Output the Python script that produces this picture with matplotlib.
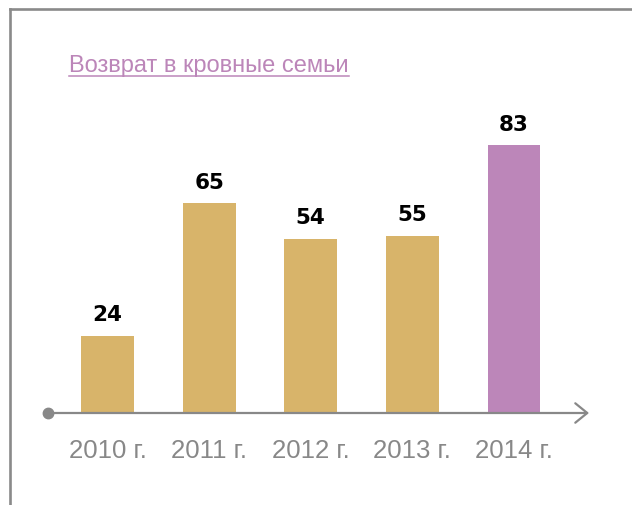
import matplotlib.pyplot as plt
from matplotlib.lines import Line2D

# data
years = ['2010 г.', '2011 г.', '2012 г.', '2013 г.', '2014 г.']
values = [24, 65, 54, 55, 83]
colors = ['#d8b46a', '#d8b46a', '#d8b46a', '#d8b46a', '#bc86b9']
title = 'Возврат в кровные семьи'

W, H = 632, 506
fig = plt.figure(figsize=(W / 100, H / 100), dpi=100, facecolor='white')

# axes box in pixels: x 48..589, y 414 (baseline) .. 60
ax = fig.add_axes([48 / W, (H - 414) / H, 541 / W, 354 / H])
x = list(range(len(values)))
ax.bar(x, values, width=0.52, color=colors)
ax.set_xlim(-0.586, 4.739)
ax.set_ylim(0, 109.7)

for xi, v in zip(x, values):
    ax.annotate(str(v), (xi, v), xytext=(0, 11), textcoords='offset points',
                ha='center', va='baseline', fontsize=15.5, fontweight='bold',
                family='DejaVu Sans', color='black')

ax.set_xticks(x, years)
ax.tick_params(axis='x', length=0, pad=18, labelsize=18.5, labelcolor='#888888')
for lab in ax.get_xticklabels():
    lab.set_family(['Liberation Sans', 'DejaVu Sans'])
ax.set_yticks([])
for s in ax.spines.values():
    s.set_visible(False)

# axis line with dot and open arrow
ax.annotate('', xy=(1.0, 0), xytext=(0, 0), xycoords='axes fraction',
            arrowprops=dict(arrowstyle='->,head_length=0.86,head_width=0.7',
                            color='#888888', lw=1.6, shrinkA=0, shrinkB=0,
                            mutation_scale=10))
ax.plot([0], [0], 'o', color='#888888', markersize=7.5,
        transform=ax.transAxes, clip_on=False)

# frame lines top and left
fig.add_artist(Line2D([10 / W, 1], [1 - 10 / H, 1 - 10 / H], color='#8a8a8a', lw=1.9))
fig.add_artist(Line2D([10 / W, 10 / W], [0, 1 - 10 / H], color='#8a8a8a', lw=1.9))

# underlined title
t = fig.text(69 / W, (H - 71.7) / H, title, fontsize=17, color='#bc86b9',
             family=['Liberation Sans', 'DejaVu Sans'], ha='left', va='baseline')
fig.canvas.draw()
bb = t.get_window_extent()
fig.add_artist(Line2D([bb.x0 / W, bb.x1 / W], [(H - 76.5) / H, (H - 76.5) / H],
                      color='#bc86b9', lw=1.1))

fig.savefig('out.png', dpi=100, facecolor='white')
